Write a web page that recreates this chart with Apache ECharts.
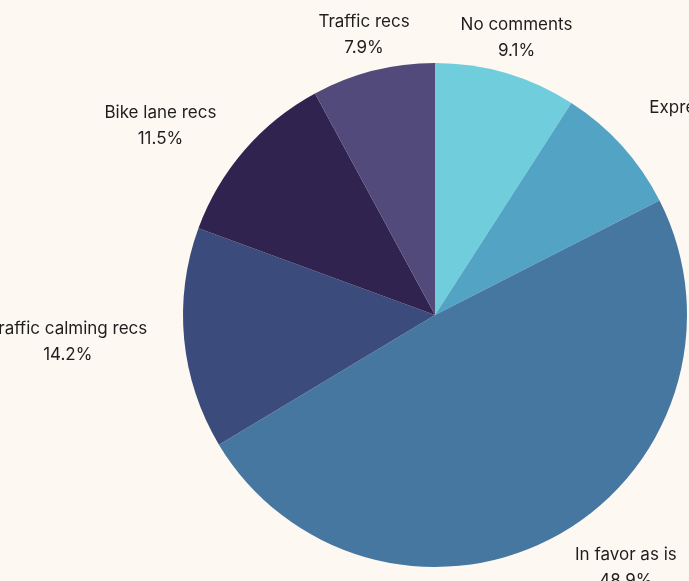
<!DOCTYPE html>
<html>
<head>
<meta charset="utf-8">
<script src="https://cdn.jsdelivr.net/npm/echarts@6/dist/echarts.min.js"></script>
<style>
  html, body { margin: 0; padding: 0; background: #fdf8f2; }
  #chart { width: 689px; height: 581px; }
</style>
</head>
<body>
<div id="chart"></div>
<script>
// slices, clockwise from 12 o'clock
const names = ['No comments', 'Express concerns', 'In favor as is', 'Traffic calming recs', 'Bike lane recs', 'Traffic recs'];
const shares = [9.1, 8.4, 48.9, 14.2, 11.5, 7.9];
const colors = ['#6fcddc', '#52a3c4', '#4577a1', '#3b4b7b', '#31234f', '#524a7a'];

const cx = 435, cy = 315, radius = 252, gap = 37;
const total = shares.reduce((a, b) => a + b, 0);

const chart = echarts.init(document.getElementById('chart'));

chart.setOption({
  backgroundColor: '#fdf8f2',
  animation: false,
  color: colors,
  series: [{
    type: 'pie',
    center: [cx, cy],
    radius: radius,
    startAngle: 90,
    clockwise: true,
    avoidLabelOverlap: false,
    itemStyle: { borderWidth: 0 },
    emphasis: { disabled: true },
    label: {
      show: true,
      position: 'outside',
      color: '#1e1e1e',
      fontFamily: 'Inter, sans-serif',
      fontSize: 17,
      lineHeight: 26,
      formatter: p => p.name + '\n' + p.value.toFixed(1) + '%'
    },
    labelLine: { show: false },
    // label sits on the slice's mid ray; side labels are pushed out by half their width
    labelLayout: function (p) {
      let before = 0;
      for (let i = 0; i < p.dataIndex; i++) before += shares[i];
      const mid = (before + shares[p.dataIndex] / 2) / total * Math.PI * 2;
      const dx = Math.sin(mid), dy = -Math.cos(mid);
      let shift = 0;
      if (Math.abs(dx) > 0.4) shift = (dx > 0 ? 1 : -1) * p.labelRect.width / 2;
      return {
        x: cx + dx * (radius + gap) + shift,
        y: cy + dy * (radius + gap),
        align: 'center',
        verticalAlign: 'middle'
      };
    },
    data: names.map((n, i) => ({ name: n, value: shares[i] }))
  }]
});
</script>
</body>
</html>
